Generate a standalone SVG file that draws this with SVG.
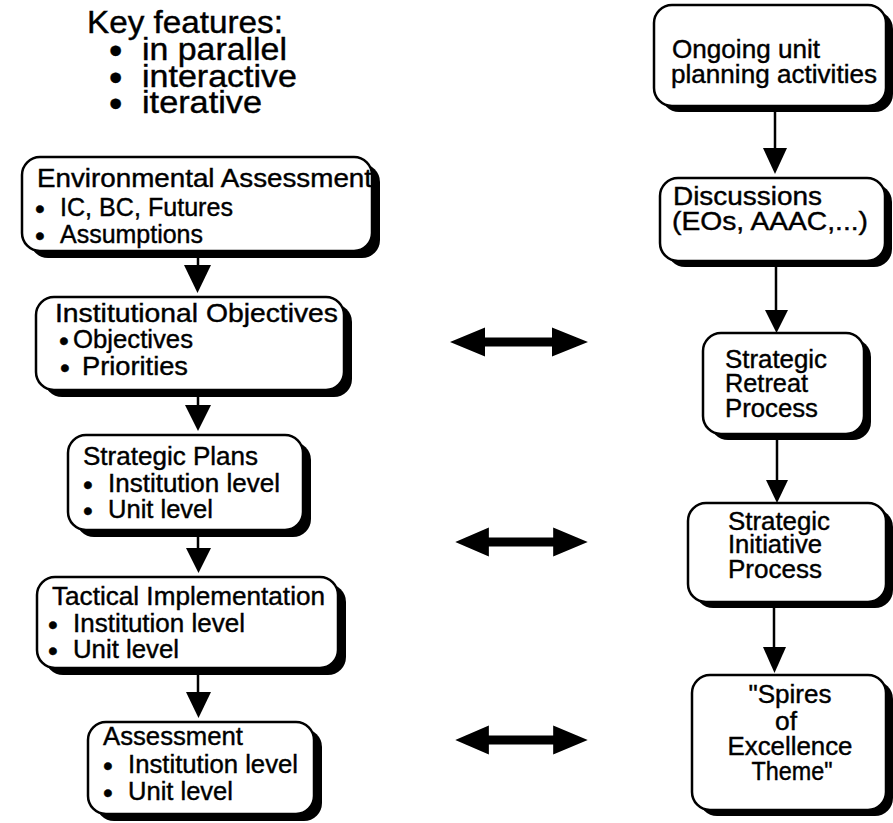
<svg xmlns="http://www.w3.org/2000/svg" width="893" height="823" viewBox="0 0 893 823">
  <style>
    text { font-family: "Liberation Sans", Arial, Helvetica, sans-serif; fill: #000; stroke: #000; stroke-width: 0.4; }
    .t { font-size: 25px; }
    .title { font-size: 31px; }
    .b { font-size: 28px; }
    .tb { font-size: 38px; }
    .shadow { fill: #000; }
    .box { fill: #fff; stroke: #000; stroke-width: 2.5; }
    .stem { stroke: #000; stroke-width: 2.5; fill: none; }
    .head { fill: #000; }
    .c { text-anchor: middle; }
  </style>
  <defs>
    <!-- double-headed horizontal arrow, centred on its own origin -->
    <path id="dbl" d="M -69 0 L -34 -14.5 L -34 -4.5 L 33 -4.5 L 33 -14.5 L 69 0 L 33 14.5 L 33 4.5 L -34 4.5 L -34 14.5 Z"/>
  </defs>

  <rect width="893" height="823" fill="#fff"/>

  <!-- heading -->
  <g id="key-features">
    <text class="title" x="87" y="33" textLength="196" lengthAdjust="spacingAndGlyphs">Key features:</text>
    <text class="tb" x="109" y="64">•</text>
    <text class="title" x="142" y="60" textLength="145" lengthAdjust="spacingAndGlyphs">in parallel</text>
    <text class="tb" x="109" y="91">•</text>
    <text class="title" x="142" y="87" textLength="155" lengthAdjust="spacingAndGlyphs">interactive</text>
    <text class="tb" x="109" y="117">•</text>
    <text class="title" x="142" y="113" textLength="120" lengthAdjust="spacingAndGlyphs">iterative</text>
  </g>

  <!-- left column -->
  <g id="environmental-assessment">
    <rect class="shadow" x="30" y="164" width="350" height="94" rx="18"/>
    <rect class="box" x="22" y="157" width="350" height="94" rx="18"/>
    <text class="t" x="37" y="187" textLength="335" lengthAdjust="spacingAndGlyphs">Environmental Assessment</text>
    <text class="b" x="35" y="218">•</text>
    <text class="t" x="60" y="216" textLength="173" lengthAdjust="spacingAndGlyphs">IC, BC, Futures</text>
    <text class="b" x="35" y="245">•</text>
    <text class="t" x="60" y="243" textLength="143" lengthAdjust="spacingAndGlyphs">Assumptions</text>
  </g>

  <g id="institutional-objectives">
    <rect class="shadow" x="44" y="304" width="308" height="93" rx="18"/>
    <rect class="box" x="36" y="297" width="308" height="93" rx="18"/>
    <text class="t" x="55" y="322" textLength="283" lengthAdjust="spacingAndGlyphs">Institutional Objectives</text>
    <text class="b" x="59" y="350">•</text>
    <text class="t" x="73" y="348" textLength="120" lengthAdjust="spacingAndGlyphs">Objectives</text>
    <text class="b" x="60" y="377">•</text>
    <text class="t" x="82" y="375" textLength="106" lengthAdjust="spacingAndGlyphs">Priorities</text>
  </g>

  <g id="strategic-plans">
    <rect class="shadow" x="76" y="442" width="235" height="95" rx="18"/>
    <rect class="box" x="68" y="435" width="235" height="95" rx="18"/>
    <text class="t" x="83" y="465" textLength="175" lengthAdjust="spacingAndGlyphs">Strategic Plans</text>
    <text class="b" x="83" y="494">•</text>
    <text class="t" x="108" y="492" textLength="172" lengthAdjust="spacingAndGlyphs">Institution level</text>
    <text class="b" x="83" y="520">•</text>
    <text class="t" x="108" y="518" textLength="105" lengthAdjust="spacingAndGlyphs">Unit level</text>
  </g>

  <g id="tactical-implementation">
    <rect class="shadow" x="45" y="584" width="301" height="91" rx="18"/>
    <rect class="box" x="37" y="577" width="301" height="91" rx="18"/>
    <text class="t" x="52" y="605" textLength="273" lengthAdjust="spacingAndGlyphs">Tactical Implementation</text>
    <text class="b" x="48" y="634">•</text>
    <text class="t" x="73" y="632" textLength="172" lengthAdjust="spacingAndGlyphs">Institution level</text>
    <text class="b" x="48" y="660">•</text>
    <text class="t" x="73" y="658" textLength="106" lengthAdjust="spacingAndGlyphs">Unit level</text>
  </g>

  <g id="assessment">
    <rect class="shadow" x="96" y="729" width="226" height="92" rx="18"/>
    <rect class="box" x="88" y="722" width="226" height="92" rx="18"/>
    <text class="t" x="103" y="745" textLength="140" lengthAdjust="spacingAndGlyphs">Assessment</text>
    <text class="b" x="103" y="775">•</text>
    <text class="t" x="128" y="773" textLength="170" lengthAdjust="spacingAndGlyphs">Institution level</text>
    <text class="b" x="103" y="802">•</text>
    <text class="t" x="128" y="800" textLength="105" lengthAdjust="spacingAndGlyphs">Unit level</text>
  </g>

  <!-- right column -->
  <g id="ongoing-unit-planning">
    <rect class="shadow" x="661" y="11" width="232" height="101" rx="18"/>
    <rect class="box" x="654" y="5" width="232" height="101" rx="18"/>
    <text class="t" x="672" y="58" textLength="148" lengthAdjust="spacingAndGlyphs">Ongoing unit</text>
    <text class="t" x="671" y="83" textLength="206" lengthAdjust="spacingAndGlyphs">planning activities</text>
  </g>

  <g id="discussions">
    <rect class="shadow" x="667" y="184" width="225" height="83" rx="18"/>
    <rect class="box" x="660" y="178" width="225" height="83" rx="18"/>
    <text class="t" x="673" y="205" textLength="149" lengthAdjust="spacingAndGlyphs">Discussions</text>
    <text class="t" x="672" y="230" textLength="196" lengthAdjust="spacingAndGlyphs">(EOs, AAAC,...)</text>
  </g>

  <g id="strategic-retreat">
    <rect class="shadow" x="710" y="339" width="161" height="101" rx="18"/>
    <rect class="box" x="703" y="333" width="161" height="101" rx="18"/>
    <text class="t" x="725" y="368" textLength="102" lengthAdjust="spacingAndGlyphs">Strategic</text>
    <text class="t" x="725" y="392" textLength="83" lengthAdjust="spacingAndGlyphs">Retreat</text>
    <text class="t" x="725" y="417" textLength="93" lengthAdjust="spacingAndGlyphs">Process</text>
  </g>

  <g id="strategic-initiative">
    <rect class="shadow" x="695" y="509" width="198" height="99" rx="18"/>
    <rect class="box" x="688" y="503" width="198" height="99" rx="18"/>
    <text class="t" x="728" y="530" textLength="102" lengthAdjust="spacingAndGlyphs">Strategic</text>
    <text class="t" x="728" y="553" textLength="94" lengthAdjust="spacingAndGlyphs">Initiative</text>
    <text class="t" x="728" y="578" textLength="94" lengthAdjust="spacingAndGlyphs">Process</text>
  </g>

  <g id="spires-of-excellence">
    <rect class="shadow" x="699" y="681" width="194" height="135" rx="18"/>
    <rect class="box" x="692" y="675" width="194" height="135" rx="18"/>
    <text class="t c" x="790" y="703" textLength="83" lengthAdjust="spacingAndGlyphs">"Spires</text>
    <text class="t c" x="786" y="730" textLength="22" lengthAdjust="spacingAndGlyphs">of</text>
    <text class="t c" x="790" y="755" textLength="125" lengthAdjust="spacingAndGlyphs">Excellence</text>
    <text class="t c" x="792" y="780" textLength="81" lengthAdjust="spacingAndGlyphs">Theme"</text>
  </g>

  <!-- connectors -->
  <g id="connectors">
    <!-- left column flow -->
    <line class="stem" x1="198" y1="258" x2="198" y2="266"/>
    <polygon class="head" points="184,265 211,265 197.5,293"/>
    <line class="stem" x1="198" y1="397" x2="198" y2="406"/>
    <polygon class="head" points="185,405 211,405 198,431"/>
    <line class="stem" x1="198" y1="537" x2="198" y2="549"/>
    <polygon class="head" points="186,548 211,548 198.5,573"/>
    <line class="stem" x1="198" y1="675" x2="198" y2="693"/>
    <polygon class="head" points="186,692 211,692 198.5,718"/>

    <!-- right column flow -->
    <line class="stem" x1="775" y1="112" x2="775" y2="149"/>
    <polygon class="head" points="763,148 787,148 775,174"/>
    <line class="stem" x1="776" y1="267" x2="776" y2="311"/>
    <polygon class="head" points="765,310 788,310 776.5,333"/>
    <line class="stem" x1="777" y1="440" x2="777" y2="481"/>
    <polygon class="head" points="766,480 788,480 777,503"/>
    <line class="stem" x1="774" y1="608" x2="774" y2="648"/>
    <polygon class="head" points="763,647 786,647 774.5,673"/>

    <!-- two-way links between the columns -->
    <use href="#dbl" x="519" y="342"/>
    <use href="#dbl" x="521.5" y="542" transform="translate(521.5 542) scale(0.96 1) translate(-521.5 -542)"/>
    <use href="#dbl" x="521.5" y="740" transform="translate(521.5 740) scale(0.96 1) translate(-521.5 -740)"/>
  </g>
</svg>
